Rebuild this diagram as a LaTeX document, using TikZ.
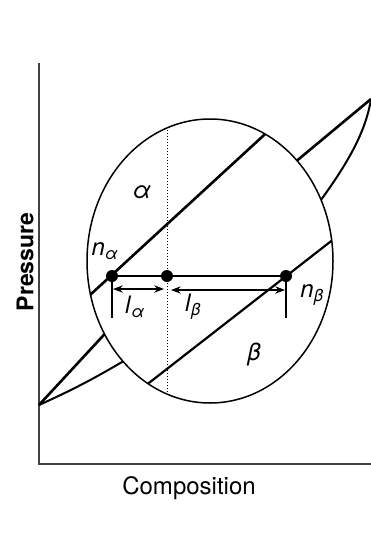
\documentclass[tikz,border=0pt]{standalone}
\usepackage{fontspec}
\setmainfont{TeX Gyre Heros}
\usepackage{tikz}
\usetikzlibrary{arrows.meta,positioning,calc}

\newcommand{\sym}[2]{\textit{#1}\textsubscript{\textit{#2}}}

\begin{document}
\begin{tikzpicture}[auto, >=Stealth, x=1pt, y=-1pt,
  phase/.style={line width=2.6pt},
  axisline/.style={line width=1.4pt, black!75},
  dot/.style={circle, fill=black, inner sep=0pt, minimum size=12pt},
  lbl/.style={font=\fontsize{24}{26}\selectfont}]
  \useasboundingbox (0,0) rectangle (371,535);

  % Define nodes
  \coordinate (O) at (39,405);
  \coordinate (C) at (210,261);
  \coordinate (top) at (371,99);
  \node[dot] (na) at (112,276) {};
  \node[dot] (nm) at (167,276) {};
  \node[dot] (nb) at (286,276) {};

  % Axes
  \draw[axisline] (39,63) -- (39,464) -- (371,464);
  \node[lbl, rotate=90, font=\fontsize{23}{25}\selectfont\bfseries] (P) at (25,262) {Pressure};
  \node[lbl] (comp) at (189,488) {Composition};

  % Lines outside the circle
  \draw[phase] (O) -- ($(C)+(149:123 and 142)$);
  \draw[line width=2pt] (O) to[bend right=3] ($(C)+(135:123 and 142)$);
  \draw[phase] ($(C)+(-45:123 and 142)$) -- (top);
  \draw[line width=2pt] ($(C)+(-25.5:123 and 142)$) .. controls (350,160) and (366,130) .. (top);

  % Magnified view
  \draw[line width=1.5pt] (C) ellipse (123 and 142);
  \begin{scope}
    \clip (C) ellipse (123 and 142);
    \draw[phase] (60,322.6) -- (290,111.2);
    \draw[line width=2.2pt] (120,405.5) -- (350,226.4);
    \draw[line width=1pt, dotted] (167,100) -- (167,420);
  \end{scope}

  % Tie line and lever
  \draw[line width=2pt] (na) -- (nm) -- (nb);
  \coordinate (ta) at (na.center |- 0,318);
  \coordinate (tb) at (nb.center |- 0,318);
  \draw[line width=1.5pt] (na.center) -- (ta);
  \draw[line width=1.5pt] (nb.center) -- (tb);

  % Draw arrows
  \draw[<->, line width=1.5pt] (113,289) -- (164,289);
  \draw[<->, line width=1.5pt] (171,290) -- (285,290);

  % Labels
  \node[lbl] (lna) at (105,251) {\sym{n}{α}};
  \node[lbl] (la) at (135,307) {\sym{l}{α}};
  \node[lbl] (lb) at (193,307) {\sym{l}{β}};
  \node[lbl] (lnb) at (312,295) {\sym{n}{β}};
  \node[lbl] (alpha) at (142,192) {\textit{α}};
  \node[lbl] (beta) at (254,355) {\textit{β}};
\end{tikzpicture}
\end{document}
